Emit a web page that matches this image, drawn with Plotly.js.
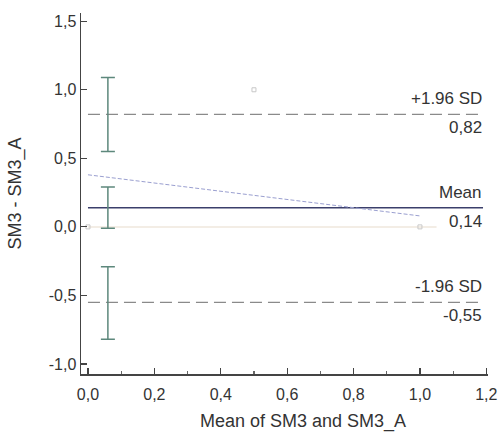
<!DOCTYPE html>
<html>
<head>
<meta charset="utf-8">
<script src="https://cdn.plot.ly/plotly-3.0.1.min.js"></script>
<style>html,body{margin:0;padding:0;background:#fff;}#chart{width:500px;height:441px;}</style>
</head>
<body>
<div id="chart"></div>
<script>
// Data
const pointX = [0.0, 0.5, 1.0];
const pointY = [0.0, 1.0, 0.0];
const regX = [0.0, 1.0];
const regY = [0.38, 0.08];
const meanDiff = 0.14;
const upperLoA = 0.82;
const lowerLoA = -0.55;
const ciX = 0.06;
const ciCenter = [upperLoA, meanDiff, lowerLoA];
const ciHigh = [1.09, 0.29, -0.29];
const ciLow = [0.55, -0.01, -0.82];
const lineX = [0.0, 1.19];
const zeroX = [0.0, 1.05];
const xTicks = [0, 0.2, 0.4, 0.6, 0.8, 1.0, 1.2];
const yTicks = [-1.0, -0.5, 0.0, 0.5, 1.0, 1.5];
const lineLabels = ["+1.96 SD", "Mean", "-1.96 SD"];
const xTitle = "Mean of SM3 and SM3_A";
const yTitle = "SM3 - SM3_A";

const fmt = (v, d) => v.toFixed(d).replace('.', ',');
const fam = 'Liberation Sans, Arial, sans-serif';
const tickFont = {family: fam, size: 16, color: '#333'};
const annFont = {family: fam, size: 17, color: '#333'};
const titleFont = {family: fam, size: 18, color: '#333'};

const traces = [
  {x: zeroX, y: [0, 0], mode: 'lines', line: {color: '#efe7dd', width: 1.5}},
  {x: lineX, y: [upperLoA, upperLoA], mode: 'lines', line: {color: '#8a8a8a', width: 1.2, dash: '12px,6px'}},
  {x: lineX, y: [lowerLoA, lowerLoA], mode: 'lines', line: {color: '#8a8a8a', width: 1.2, dash: '12px,6px'}},
  {x: lineX, y: [meanDiff, meanDiff], mode: 'lines', line: {color: '#3b3f6b', width: 1.5}},
  {x: regX, y: regY, mode: 'lines', line: {color: '#9a9fd0', width: 1, dash: '4px,2px'}},
  {x: pointX, y: pointY, mode: 'markers', marker: {symbol: 'square-open', size: 4, color: '#c8c8c8', line: {width: 1, color: '#c4c4c4'}}},
  {x: ciCenter.map(() => ciX), y: ciCenter, mode: 'markers', marker: {size: 0.1, color: 'rgba(0,0,0,0)'},
   error_y: {type: 'data', symmetric: false,
     array: ciHigh.map((h, i) => h - ciCenter[i]),
     arrayminus: ciLow.map((l, i) => ciCenter[i] - l),
     color: '#5d887c', thickness: 1.5, width: 7}}
];

const lineVals = [upperLoA, meanDiff, lowerLoA];
const annotations = [];
lineVals.forEach((v, i) => {
  annotations.push({xref: 'paper', x: 0.99, y: v, xanchor: 'right', yanchor: 'bottom', yshift: 4,
    text: lineLabels[i], showarrow: false, font: annFont});
  annotations.push({xref: 'paper', x: 0.99, y: v, xanchor: 'right', yanchor: 'top', yshift: -2,
    text: fmt(v, 2), showarrow: false, font: annFont});
});
annotations.push({xref: 'paper', yref: 'paper', x: 0.545, y: 0, yshift: -35, xanchor: 'center', yanchor: 'top',
  text: xTitle, showarrow: false, font: titleFont});

const layout = {
  width: 500, height: 441,
  margin: {l: 81, r: 12, t: 13, b: 67},
  paper_bgcolor: '#fff', plot_bgcolor: '#fff',
  showlegend: false,
  font: tickFont,
  xaxis: {
    range: [-0.021, 1.205], tickvals: xTicks, ticktext: xTicks.map(v => fmt(v, 1)),
    showline: true, linecolor: '#444', linewidth: 1.5,
    ticks: 'inside', ticklen: 6, tickcolor: '#444', tickwidth: 1.2,
    ticklabelstandoff: 5,
    minor: {dtick: 0.1, ticks: 'inside', ticklen: 3, tickcolor: '#666'},
    showgrid: false, zeroline: false
  },
  yaxis: {
    range: [-1.073, 1.56], tickvals: yTicks, ticktext: yTicks.map(v => fmt(v, 1)),
    showline: true, linecolor: '#444', linewidth: 1.5,
    ticks: 'inside', ticklen: 6, tickcolor: '#444', tickwidth: 1.2,
    showgrid: false, zeroline: false,
    title: {text: yTitle, font: titleFont, standoff: 22}
  },
  annotations: annotations
};

Plotly.newPlot('chart', traces, layout, {displayModeBar: false, staticPlot: true});
</script>
</body>
</html>
